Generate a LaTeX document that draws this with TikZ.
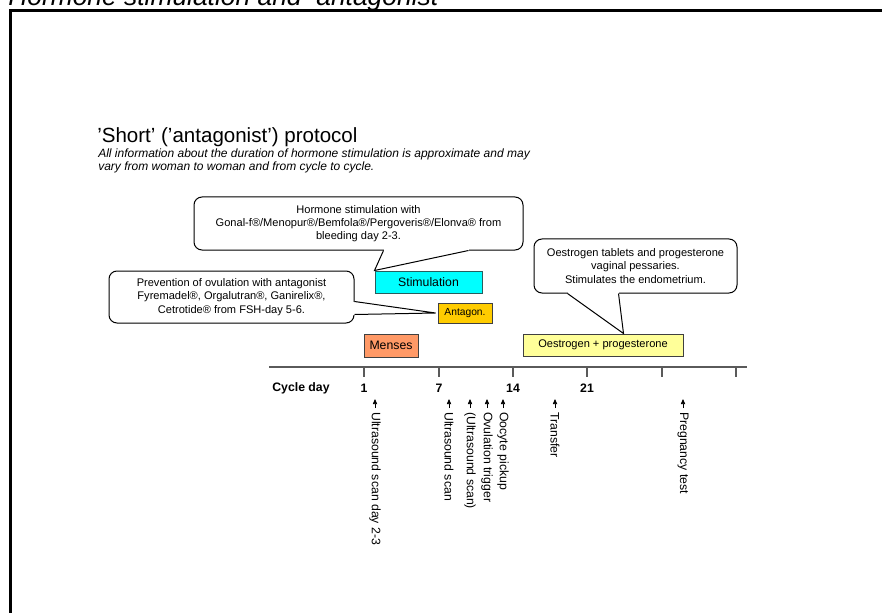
\documentclass[tikz,border=0pt]{standalone}
\usepackage{fontspec}
\setmainfont{Liberation Sans}
\usetikzlibrary{arrows.meta,calc}

\definecolor{stimfill}{RGB}{0,255,255}
\definecolor{stimline}{RGB}{40,95,95}
\definecolor{antagfill}{RGB}{255,204,0}
\definecolor{mensfill}{RGB}{255,153,102}
\definecolor{oestfill}{RGB}{255,255,153}
\definecolor{axisgray}{RGB}{90,90,90}

\begin{document}
\begin{tikzpicture}[
  x=0.75pt, y=-0.75pt,
  note/.style={draw, fill=white, rounded corners=6pt, align=center, inner sep=0pt,
    line width=0.75pt, font=\fontsize{8.3}{10}\selectfont},
  bar/.style={draw=black!75, line width=0.75pt, inner sep=0pt, align=center,
    font=\fontsize{8.3}{10}\selectfont},
  evt/.style={rotate=-90, anchor=west, inner sep=0pt, font=\fontsize{9.2}{11}\selectfont},
  evarr/.style={-{Triangle[length=3.8pt,width=3.2pt]}, line width=0.6pt},
  tip/.style={line width=0.75pt}
]
\useasboundingbox (0,0) rectangle (882,613);
\clip (0,0) rectangle (882,613);

% Frame and headings
\draw[line width=1.9pt] (10.3,10.3) rectangle (900,640);
\node[anchor=base west, inner sep=0pt, font=\fontsize{19.8}{22}\selectfont\itshape] (head) at (8,5.5) {Hormone stimulation and\ \ antagonist};
\node[anchor=base west, inner sep=0pt, font=\fontsize{15.4}{18}\selectfont] (title) at (97,143) {'Short' ('antagonist') protocol};
\node[anchor=north west, inner sep=0pt, align=left, font=\fontsize{9}{9.75}\selectfont\itshape] (info) at (98,148.5) {All information about the duration of hormone stimulation is approximate and may\\vary from woman to woman and from cycle to cycle.};

% Treatment bars
\node[bar, fill=stimfill, draw=stimline, minimum width=80.25pt, minimum height=16.5pt, font=\fontsize{9.2}{11}\selectfont] (stim) at (428.5,282) {Stimulation};
\node[bar, fill=antagfill, minimum width=40.5pt, minimum height=15pt, font=\fontsize{7.7}{9}\selectfont] (antag) at (465,313) {Antagon.};
\node[bar, fill=mensfill, minimum width=40.5pt, minimum height=17.25pt, font=\fontsize{9.2}{11}\selectfont] (menses) at (391,345.5) {Menses};
\node[bar, fill=oestfill, minimum width=120pt, minimum height=16.5pt] (oest) at (603,345) {Oestrogen + progesterone};

% Callouts
\node[note, minimum width=246.75pt, minimum height=39.75pt] (stimnote) at (358.5,223.5) {Hormone stimulation with\\Gonal-f®/Menopur®/Bemfola®/Pergoveris®/Elonva® from\\bleeding day 2-3.};
\node[note, minimum width=183.75pt, minimum height=39pt] (prevnote) at (231.5,297) {Prevention of ovulation with antagonist\\Fyremadel®, Orgalutran®, Ganirelix®,\\Cetrotide® from FSH-day 5-6.};
\node[note, minimum width=152.25pt, minimum height=40.5pt] (oestnote) at (635.5,266) {Oestrogen tablets and progesterone\\vaginal pessaries.\\Stimulates the endometrium.};

% Callout pointers
\coordinate (sa) at ($(stimnote.south west)+(190,0)$);
\coordinate (sb) at ($(stimnote.south west)+(275,0)$);
\draw[white, line width=1.6pt] (sa) -- (sb);
\draw[tip] (sa) -- (stim.north west) -- (sb);
\coordinate (pa) at ($(prevnote.north east)+(0,31)$);
\coordinate (pb) at ($(prevnote.north east)+(0,44)$);
\draw[white, line width=1.6pt] (pa) -- (pb);
\draw[tip] (pa) -- ($(antag.west)+(-2,0)$) -- (pb);
\coordinate (oa) at ($(oestnote.south west)+(34,0)$);
\coordinate (ob) at ($(oestnote.south west)+(85,0)$);
\draw[white, line width=1.6pt] (oa) -- (ob);
\draw[tip] (oa) -- ($(oest.north west)+(101,0)$) -- (ob);

% Cycle day axis
\coordinate (axl) at (269,367);
\coordinate (axr) at (747,367);
\draw[axisgray, line width=0.9pt] (axl) -- (axr);
\foreach \tx in {364,439,513,587,662,736}
  \draw[axisgray, line width=0.9pt] (\tx,367) -- (\tx,377);
\node[font=\fontsize{9.2}{11}\selectfont\bfseries] (cday) at (301,388) {Cycle day};
\foreach \tx/\tl in {364/1,439/7,513/14,587/21}
  \node[font=\fontsize{9.2}{11}\selectfont\bfseries] (d\tl) at (\tx,388) {\tl};

% Events
\foreach \ex/\en/\et in {375/us/Ultrasound scan day 2-3, 449/usb/Ultrasound scan,
  470/usc/(Ultrasound scan), 487/ovt/Ovulation trigger, 503/opu/Oocyte pickup,
  555/tr/Transfer, 683/pt/Pregnancy test}{
  \node[evt] (\en) at (\ex,412) {\et};
  \draw[evarr] ($(\en.west)+(0,-4)$) -- ++(0,-9);
}

\end{tikzpicture}
\end{document}
